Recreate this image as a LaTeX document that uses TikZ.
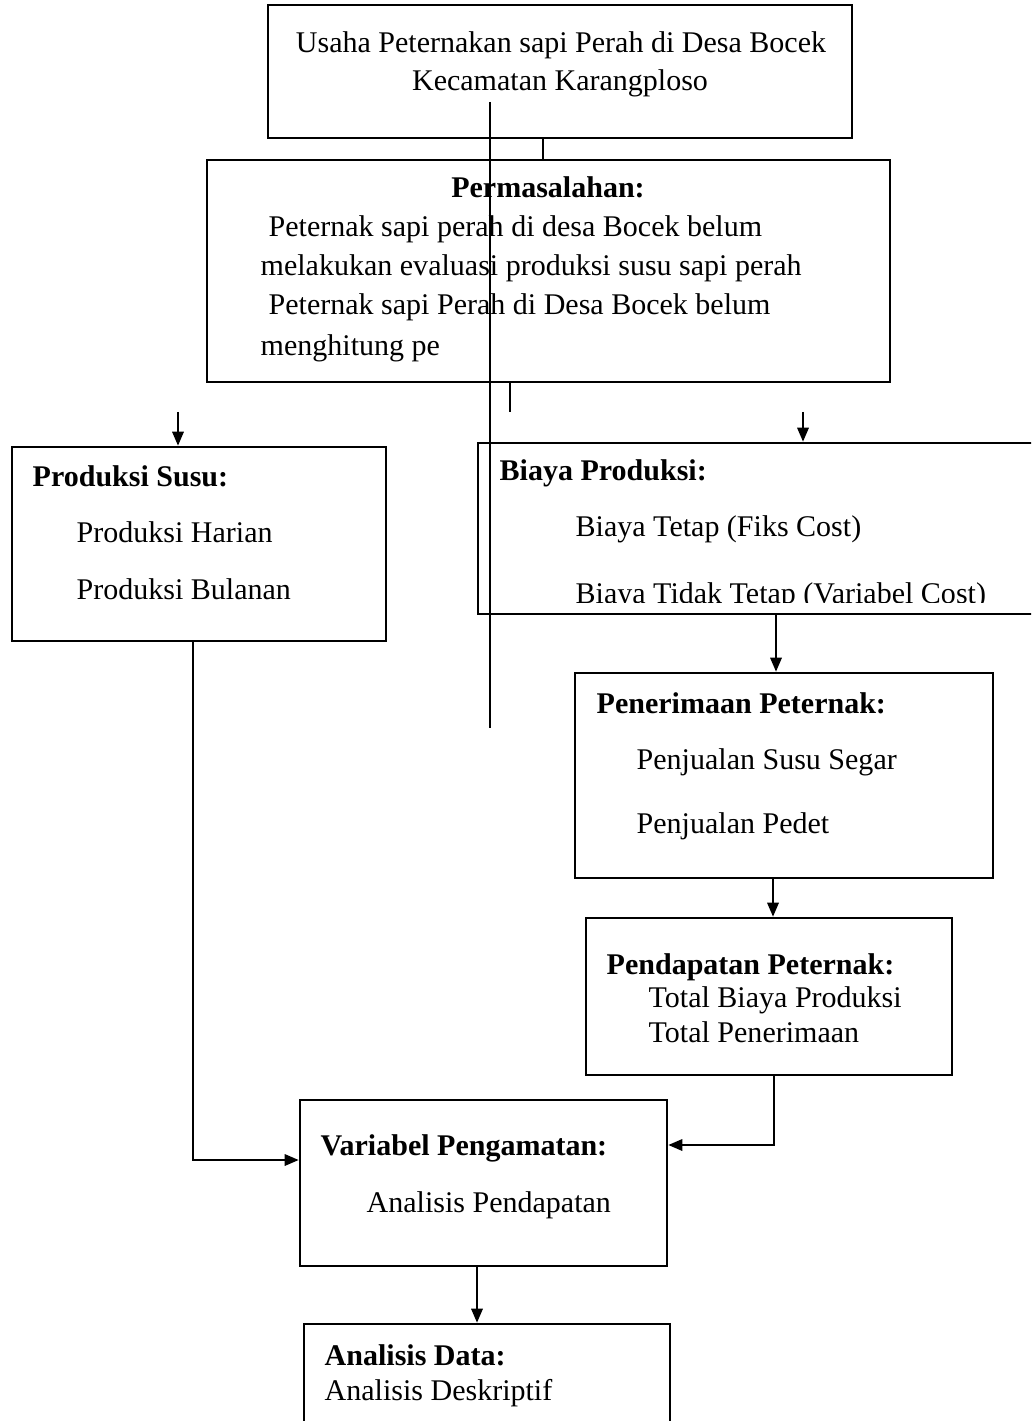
\documentclass[tikz,border=0pt]{standalone}
\usepackage{fontspec}
\setmainfont{Liberation Serif}
\usetikzlibrary{arrows.meta,fit}

\begin{document}
\begin{tikzpicture}[
  box/.style={draw, line width=0.7pt, inner sep=0pt},
  txt/.style={anchor=base west, inner sep=0pt, font=\fontsize{8.54}{10}\selectfont},
  hd/.style={txt, font=\fontsize{8.54}{10}\selectfont\bfseries},
  ln/.style={line width=0.7pt},
  arr/.style={ln, -{Triangle[length=4pt,width=3.2pt]}}
]
  \clip (0,0) rectangle (10.31,-14.21);
  % Top box: usaha
  \node[box, fit={(2.68,-0.05) (8.52,-1.38)}] (usaha) {};
  \node[txt, anchor=base] (usaha1) at (5.61,-0.53) {Usaha Peternakan sapi Perah di Desa Bocek};
  \node[txt, anchor=base] (usaha2) at (5.60,-0.91) {Kecamatan Karangploso};
  % Permasalahan box
  \node[box, fit={(2.07,-1.60) (8.90,-3.82)}] (perm) {};
  \node[hd, anchor=base] (perm0) at (5.48,-1.98) {Permasalahan:};
  \node[txt] (perm1) at (2.68,-2.37) {Peternak sapi perah di desa Bocek belum};
  \node[txt] (perm2) at (2.60,-2.76) {melakukan evaluasi produksi susu sapi perah};
  \node[txt] (perm3) at (2.68,-3.15) {Peternak sapi Perah di Desa Bocek belum};
  \node[txt] (perm4) at (2.60,-3.56) {menghitung pe};
  % Produksi susu box
  \node[box, fit={(0.12,-4.47) (3.86,-6.41)}] (prod) {};
  \node[hd] (prod0) at (0.32,-4.87) {Produksi Susu:};
  \node[txt] (prod1) at (0.76,-5.42) {Produksi Harian};
  \node[txt] (prod2) at (0.76,-5.99) {Produksi Bulanan};
  % Biaya produksi box (runs off the right edge)
  \node[box, fit={(4.78,-4.43) (10.45,-6.14)}] (biaya) {};
  \node[hd] (biaya0) at (4.99,-4.81) {Biaya Produksi:};
  \node[txt] (biaya1) at (5.75,-5.37) {Biaya Tetap (Fiks Cost)};
  \begin{scope}
    \clip (4.78,-4.43) rectangle (10.45,-6.02);
    \node[txt] (biaya2) at (5.75,-6.03) {Biaya Tidak Tetap (Variabel Cost)};
  \end{scope}
  % Penerimaan box
  \node[box, fit={(5.75,-6.73) (9.93,-8.78)}] (pen) {};
  \node[hd] (pen0) at (5.96,-7.13) {Penerimaan Peternak:};
  \node[txt] (pen1) at (6.36,-7.69) {Penjualan Susu Segar};
  \node[txt] (pen2) at (6.36,-8.33) {Penjualan Pedet};
  % Pendapatan box
  \node[box, fit={(5.86,-9.18) (9.52,-10.75)}] (pend) {};
  \node[hd] (pend0) at (6.06,-9.74) {Pendapatan Peternak:};
  \node[txt] (pend1) at (6.48,-10.07) {Total Biaya Produksi};
  \node[txt] (pend2) at (6.48,-10.42) {Total Penerimaan};
  % Variabel box
  \node[box, fit={(3.00,-11.00) (6.67,-12.66)}] (var) {};
  \node[hd] (var0) at (3.20,-11.55) {Variabel Pengamatan:};
  \node[txt] (var1) at (3.66,-12.12) {Analisis Pendapatan};
  % Analisis data box (runs off the bottom edge)
  \node[box, fit={(3.04,-13.24) (6.70,-14.30)}] (data) {};
  \node[hd] (data0) at (3.24,-13.65) {Analisis Data:};
  \node[txt] (data1) at (3.24,-14.00) {Analisis Deskriptif};

  % Loose ends
  \coordinate (s1) at (4.90,-1.02);
  \coordinate (s2) at (4.90,-7.28);
  \coordinate (a1) at (1.78,-4.12);
  \coordinate (a2) at (8.03,-4.12);
  \coordinate (a3) at (5.10,-4.12);
  % Connectors
  \draw[ln] ([xshift=-0.17cm]usaha.south) coordinate (u1) -- (u1 |- perm.north);
  \draw[ln] (s1) -- (s2);
  \draw[ln] (a3 |- perm.south) -- (a3);
  \draw[arr] (a1) -- (a1 |- prod.north);
  \draw[arr] (a2) -- (a2 |- biaya.north);
  \draw[arr] ([xshift=-0.08cm]pen.north |- biaya.south) -- ([xshift=-0.08cm]pen.north);
  \draw[arr] ([xshift=0.04cm]pend.north |- pen.south) -- ([xshift=0.04cm]pend.north);
  \draw[arr] ([xshift=-0.06cm]prod.south) |- ([yshift=0.23cm]var.west);
  \draw[arr] ([xshift=0.05cm]pend.south) |- ([yshift=0.38cm]var.east);
  \draw[arr] ([xshift=-0.065cm]var.south) -- ([xshift=-0.065cm]var.south |- data.north);
\end{tikzpicture}
\end{document}
